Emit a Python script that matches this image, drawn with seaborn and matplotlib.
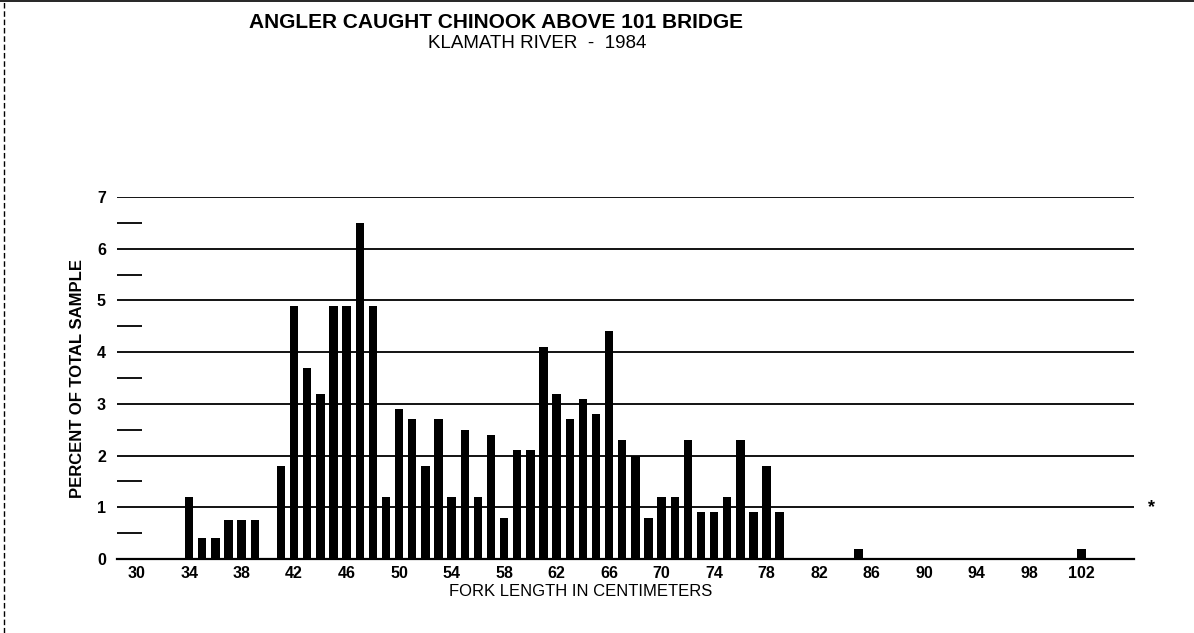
import matplotlib
matplotlib.use("Agg")
import matplotlib.pyplot as plt
import seaborn as sns
import pandas as pd
from matplotlib.ticker import MultipleLocator

lengths = [34, 35, 36, 37, 38, 39, 41, 42, 43, 44, 45, 46, 47, 48, 49,
           50, 51, 52, 53, 54, 55, 56, 57, 58, 59, 60, 61, 62, 63, 64, 65,
           66, 67, 68, 69, 70, 71, 72, 73, 74, 75, 76, 77, 78, 79, 85, 102]
percents = [1.2, 0.4, 0.4, 0.75, 0.75, 0.75, 1.8, 4.9, 3.7, 3.2, 4.9, 4.9, 6.5, 4.9, 1.2,
            2.9, 2.7, 1.8, 2.7, 1.2, 2.5, 1.2, 2.4, 0.8, 2.1, 2.1, 4.1, 3.2, 2.7, 3.1, 2.8,
            4.4, 2.3, 2.0, 0.8, 1.2, 1.2, 2.3, 0.9, 0.9, 1.2, 2.3, 0.9, 1.8, 0.9, 0.2, 0.2]
x_ticks = list(range(30, 103, 4))
y_ticks = list(range(0, 8))

title = "ANGLER CAUGHT CHINOOK ABOVE 101 BRIDGE"
subtitle = "KLAMATH RIVER  -  1984"
xlabel = "FORK LENGTH IN CENTIMETERS"
ylabel = "PERCENT OF TOTAL SAMPLE"

sns.set_style("white")
plt.rcParams['font.family'] = ['Liberation Sans', 'DejaVu Sans']
plt.rcParams.update({"text.color": "black", "axes.labelcolor": "black",
                     "xtick.color": "black", "ytick.color": "black"})

df = pd.DataFrame({"length": lengths, "pct": percents})

W, H = 1194, 633
fig = plt.figure(figsize=(W / 100, H / 100), dpi=100)
ax = fig.add_axes([117 / W, 1 - 559 / H, (1134 - 117) / W, (559 - 197) / H])

sns.barplot(data=df, x="length", y="pct", native_scale=True, width=0.64,
            color="black", edgecolor="black", linewidth=0, ax=ax, zorder=3)

ax.set_xlim(28.5, 106)
ax.set_ylim(0, 7)
ax.set_xticks(x_ticks)
ax.set_yticks(y_ticks)
ax.yaxis.set_minor_locator(MultipleLocator(0.5))
ax.yaxis.grid(True, which="major", color="black", linewidth=1.3, zorder=1)
ax.set_axisbelow(True)
for s in ["left", "right", "top"]:
    ax.spines[s].set_visible(False)
ax.spines["bottom"].set_color("black")
ax.spines["bottom"].set_linewidth(1.6)

ax.tick_params(axis="x", which="major", direction="out", length=3, width=1,
               color="black", labelcolor="black", labelsize=11.5, pad=2)
ax.tick_params(axis="y", which="major", length=0, labelsize=11.5, pad=8,
               labelcolor="black")
ax.tick_params(axis="y", which="minor", direction="in", length=18, width=1.3,
               color="black", left=True, pad=0)
for lbl in ax.get_xticklabels() + ax.get_yticklabels():
    lbl.set_fontweight("bold")

ax.set_xlabel(xlabel, fontsize=12, va="center", color="black")
ax.xaxis.set_label_coords((581 - 117) / (1134 - 117), (559 - 591) / (559 - 197))
ax.set_ylabel(ylabel, fontsize=12, fontweight="bold", va="center", color="black")
ax.yaxis.set_label_coords((77 - 117) / (1134 - 117), 0.5)

fig.text(496 / W, 1 - 23 / H, title, ha="center", va="center",
         fontsize=15, fontweight="bold", color="black")
fig.text(537 / W, 1 - 43 / H, subtitle, ha="center", va="center", fontsize=13.5,
         color="black")
fig.text(1152 / W, 1 - 508 / H, "*", ha="center", va="center", fontsize=13,
         fontweight="bold", color="black")

fig.add_artist(plt.Line2D([0, 1], [0.998, 0.998], color="black", linewidth=1.2,
                          transform=fig.transFigure))
fig.add_artist(plt.Line2D([0.003, 0.003], [0.0, 1.0], color="black", linewidth=1,
                          linestyle=(0, (4, 2)), transform=fig.transFigure))

fig.savefig("out.png", dpi=100)
